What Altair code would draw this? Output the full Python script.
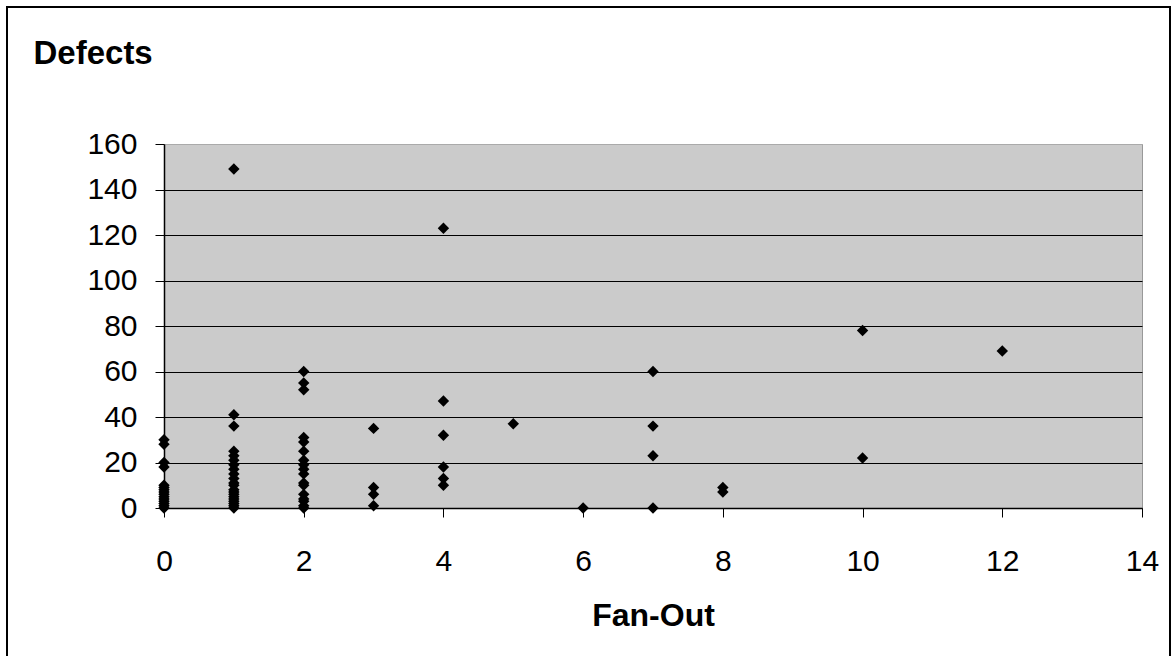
import altair as alt
import pandas as pd

fan_out = (
    [0] * 15 + [1] * 21 + [2] * 17 + [3] * 4 + [4] * 6 + [5] + [6] + [7] * 4 + [8] * 2 + [10] * 2 + [12]
)
defects = (
    [30, 28, 20, 18, 10, 9, 8, 7, 6, 5, 4, 3, 2, 1, 0]
    + [149, 41, 36, 25, 23, 21, 19, 17, 15, 13, 11, 10, 8, 7, 6, 5, 4, 3, 2, 1, 0]
    + [60, 55, 52, 31, 29, 25, 21, 19, 17, 15, 11, 10, 6, 4, 3, 1, 0]
    + [35, 9, 6, 1]
    + [123, 47, 32, 18, 13, 10]
    + [37]
    + [0]
    + [60, 36, 23, 0]
    + [9, 7]
    + [78, 22]
    + [69]
)
x_ticks = [0, 2, 4, 6, 8, 10, 12, 14]
y_ticks = [0, 20, 40, 60, 80, 100, 120, 140, 160]

df = pd.DataFrame({"Fan-Out": fan_out, "Defects": defects})
FONT = "Liberation Sans"

points = alt.Chart(df).mark_point(
    shape="diamond", filled=True, color="black", size=130, opacity=1
).encode(
    x=alt.X(
        "Fan-Out:Q",
        scale=alt.Scale(domain=[0, 14], nice=False),
        axis=alt.Axis(
            values=x_ticks, grid=False, title="Fan-Out", titleFont=FONT, titleFontSize=32,
            titleFontWeight="bold", titleColor="black", titleBaseline="alphabetic", titleY=117,
            labelFont=FONT, labelFontSize=30, labelColor="black", labelPadding=29,
            tickSize=9, tickColor="black", domainColor="black", domainWidth=1.5,
            labelFlush=False,
        ),
    ),
    y=alt.Y(
        "Defects:Q",
        scale=alt.Scale(domain=[0, 160], nice=False),
        axis=alt.Axis(
            values=y_ticks, grid=True,
            gridColor=alt.condition("datum.value === 160", alt.value("#aaaaaa"), alt.value("black")),
            gridWidth=1, title="Defects", titleFont=FONT, titleFontSize=33,
            titleFontWeight="bold", titleColor="black", titleAngle=0, titleAlign="left",
            titleBaseline="alphabetic", titleX=-131, titleY=-81,
            labelFont=FONT, labelFontSize=30, labelColor="black", labelPadding=18,
            tickSize=9, tickColor="black", domainColor="black", domainWidth=1.5,
            labelFlush=False,
        ),
    ),
)

border = alt.Chart(alt.Data(values=[{"b": 1}])).mark_rect(
    fill=None, stroke="black", strokeWidth=2, clip=False
).encode(
    x=alt.value(-157), x2=alt.value(1006), y=alt.value(-137), y2=alt.value(600)
)

chart = alt.layer(border, points).properties(
    width=978, height=364,
    autosize=alt.AutoSizeParams(type="none"),
    padding={"left": 164, "top": 144, "right": 30, "bottom": 148},
    background="white",
).configure_view(fill="#cbcbcb", stroke="#999999", strokeWidth=1)

chart.save("out.html", embed_options={"renderer": "svg", "actions": False})
